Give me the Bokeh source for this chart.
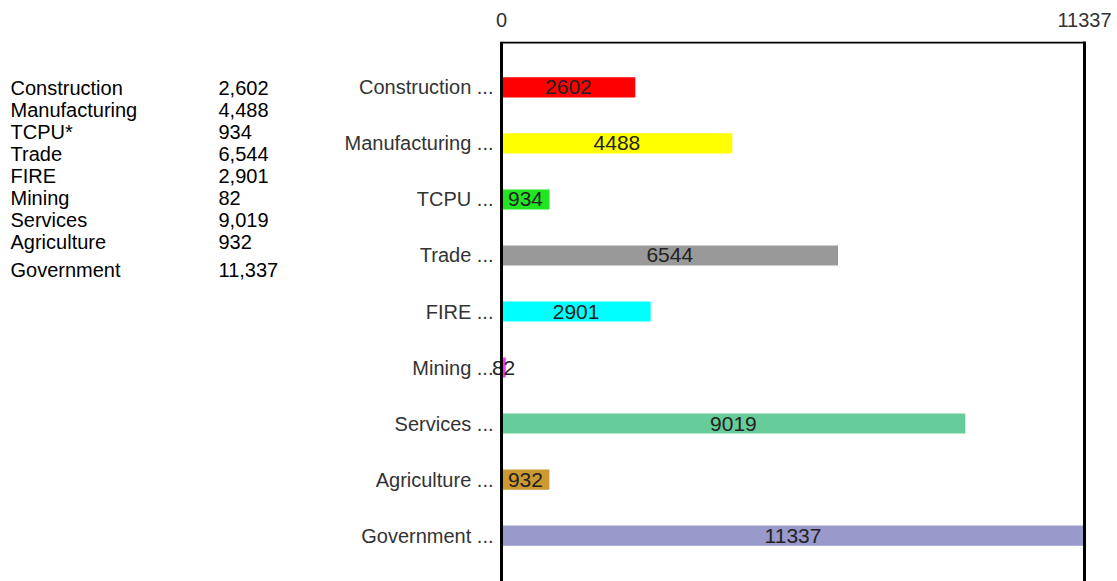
from bokeh.plotting import figure
from bokeh.models import (ColumnDataSource, FactorRange, Range1d, LinearAxis,
                          FixedTicker, CategoricalAxis, LabelSet, Span,
                          BoxAnnotation)
from bokeh.layouts import row
from bokeh.core.properties import value
from bokeh.embed import file_html
from bokeh.resources import INLINE

# ---- data ----
categories = ["Construction", "Manufacturing", "TCPU", "Trade", "FIRE",
              "Mining", "Services", "Agriculture", "Government"]
table_labels = ["Construction", "Manufacturing", "TCPU*", "Trade", "FIRE",
                "Mining", "Services", "Agriculture", "Government"]
employment = [2602, 4488, 934, 6544, 2901, 82, 9019, 932, 11337]
bar_colors = ["#ff0000", "#ffff00", "#22e622", "#999999", "#00ffff",
              "#ff33ff", "#66cc99", "#cc9933", "#9999cc"]
x_ticks = [0, 11337]

FONT = "'Liberation Sans Narrow', 'Liberation Sans', sans-serif"

# ---- layout constants ----
W_TABLE = 330
H = 581
TOP = 41
AXIS_X = 501          # screen x of the value-0 line
RIGHT_X = 1084        # screen x of the right frame line
LEFT_PAD = 14         # extra frame room left of zero so small labels can spill
Y_PAD = 0.32

# ---- left table ----
t = figure(width=W_TABLE, height=H, x_range=Range1d(0, W_TABLE),
           y_range=Range1d(H, TOP), output_backend="svg", toolbar_location=None,
           min_border=0, min_border_top=TOP)
t.axis.visible = False
t.grid.visible = False
t.outline_line_color = None
row_y = [87 + 22 * i + (6 if i == len(table_labels) - 1 else 0)
         for i in range(len(table_labels))]
tsrc = ColumnDataSource(dict(
    y=row_y,
    name=table_labels,
    val=["{:,}".format(v) for v in employment],
))
t.text(x=10, y="y", text="name", source=tsrc, text_font=value("Liberation Sans"),
       text_font_size="20px", text_baseline="middle", text_align="left",
       text_color="#000000")
t.text(x=218, y="y", text="val", source=tsrc, text_font=value("Liberation Sans"),
       text_font_size="20px", text_baseline="middle", text_align="left",
       text_color="#000000")

# ---- bar chart ----
xmax = max(employment)
units_per_px = xmax / (RIGHT_X - AXIS_X)
factors = [c + " ..." for c in categories]
n = len(factors)
p = figure(width=1117 - W_TABLE, height=H,
           y_range=FactorRange(factors=factors[::-1], range_padding=Y_PAD,
                               range_padding_units="absolute"),
           x_range=Range1d(-LEFT_PAD * units_per_px, xmax),
           output_backend="svg", toolbar_location=None,
           x_axis_location=None, y_axis_location=None,
           min_border_left=AXIS_X - LEFT_PAD - W_TABLE,
           min_border_right=1117 - RIGHT_X,
           min_border_top=TOP, min_border_bottom=0)
p.grid.visible = False
p.outline_line_color = None
p.background_fill_color = "white"

src = ColumnDataSource(dict(
    cat=factors,
    val=employment,
    half=[v / 2 for v in employment],
    txt=[str(v) for v in employment],
    color=bar_colors,
))
p.hbar(y="cat", right="val", left=0, height=0.36, color="color", source=src,
       line_color=None)
p.add_layout(LabelSet(x="half", y="cat", text="txt", source=src,
                      text_font=value(FONT), text_font_size="21px",
                      text_align="center", text_baseline="middle",
                      text_color="#222222"))

# frame lines: zero line (left) and top line starting at zero
p.add_layout(Span(location=0, dimension="height", line_color="#000000",
                  line_width=3))
top_edge = n + Y_PAD
px_per_unit_y = (H - TOP) / (n + 2 * Y_PAD)
p.add_layout(BoxAnnotation(left=0, right=xmax, top=top_edge,
                           bottom=top_edge - 2 / px_per_unit_y,
                           fill_color="#000000", fill_alpha=1.0,
                           line_color=None))

left = CategoricalAxis()
left.axis_line_color = None
left.major_tick_line_color = None
left.minor_tick_line_color = None
left.major_label_text_font = FONT
left.major_label_text_font_size = "20px"
left.major_label_text_color = "#333333"
left.major_label_standoff = 2 - LEFT_PAD
p.add_layout(left, "left")

top = LinearAxis(ticker=FixedTicker(ticks=x_ticks))
top.axis_line_color = None
top.major_tick_line_color = None
top.minor_tick_line_color = None
top.major_label_text_font = FONT
top.major_label_text_font_size = "20px"
top.major_label_text_color = "#333333"
top.major_label_standoff = 9
p.add_layout(top, "above")

right = LinearAxis(ticker=FixedTicker(ticks=[]))
right.axis_line_width = 3
right.axis_line_color = "#000000"
right.major_tick_line_color = None
right.minor_tick_line_color = None
right.major_label_text_font_size = "0px"
p.add_layout(right, "right")

layout = row(t, p, spacing=0)
open("out.html", "w").write(file_html(layout, INLINE))
